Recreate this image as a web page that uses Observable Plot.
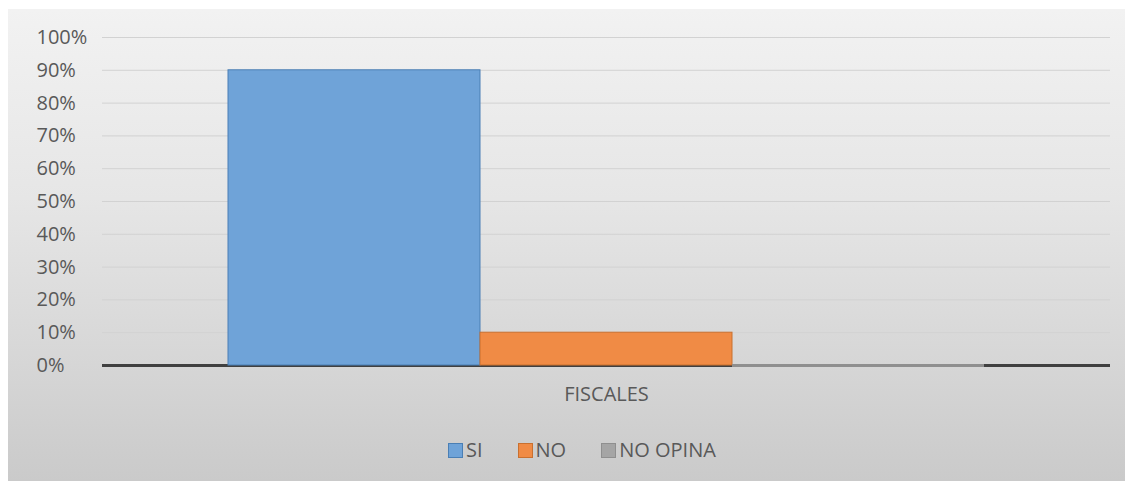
<!DOCTYPE html>
<html>
<head>
<meta charset="utf-8">
<script src="https://cdn.jsdelivr.net/npm/d3@7"></script>
<script src="https://cdn.jsdelivr.net/npm/@observablehq/plot@0.6"></script>
<style>
html, body { margin: 0; padding: 0; background: #ffffff; }
#frame {
  position: absolute; left: 8px; top: 9px; width: 1117px; height: 472px;
  background: linear-gradient(to bottom, #f2f2f2 0%, #e6e6e6 40%, #d6d6d6 75%, #cacaca 100%);
  font-family: "Open Sans", sans-serif; color: #595959; overflow: hidden;
}
#legend {
  display: flex; align-items: center; padding-left: 440px; margin-top: 29px;
  font-size: 20px; line-height: 22px; color: #595959;
}
.item { display: flex; align-items: center; margin-right: 35px; }
.sw { width: 15px; height: 15px; box-sizing: border-box; border: 1px solid; margin-right: 3px; }
</style>
</head>
<body>
<div id="frame"><div id="chart"></div><div id="legend"></div></div>
<script>
const categories = ["FISCALES"];
const series = ["SI", "NO", "NO OPINA"];
const values = [0.90, 0.10, 0.00];
const fills = ["#6fa3d8", "#f08b45", "#a5a5a5"];
const strokes = ["#4a7fb5", "#c9702f", "#8f8f8f"];
const yTicks = [0, 0.1, 0.2, 0.3, 0.4, 0.5, 0.6, 0.7, 0.8, 0.9, 1.0];

const data = series.map((s, i) => ({category: categories[0], serie: s, value: values[i]}));

const barMarks = series.map((s, i) =>
  Plot.barY(data.filter(d => d.serie === s), {
    fx: "category", x: "serie", y: "value",
    fill: fills[i], stroke: strokes[i], strokeWidth: 1
  })
);
const zeroMarks = series.map((s, i) =>
  Plot.tickY(data.filter(d => d.serie === s && d.value === 0), {
    fx: "category", x: "serie", y: "value",
    stroke: strokes[i], strokeWidth: 3
  })
);

const chart = Plot.plot({
  width: 1117, height: 401,
  marginLeft: 94, marginRight: 15, marginTop: 28, marginBottom: 45,
  style: {background: "transparent", fontFamily: "Open Sans, sans-serif", fontSize: "20px", color: "#595959"},
  fx: {domain: categories, padding: 0, label: null, axis: null},
  x: {domain: series, paddingInner: 0, paddingOuter: 0.5, axis: null},
  y: {domain: [0, 1], axis: null},
  marks: [
    Plot.gridY(yTicks, {stroke: "#d2d2d2", strokeOpacity: 1}),
    Plot.axisY(yTicks, {
      tickFormat: d => Math.round(d * 100) + "%",
      tickSize: 0, tickPadding: 0, textAnchor: "start", dx: -66,
      fill: "#595959", fontSize: 20, label: null
    }),
    Plot.axisFx({anchor: "bottom", tickSize: 0, tickPadding: 21, label: null, fill: "#595959", fontSize: 20}),
    Plot.ruleY([0], {stroke: "#404040", strokeWidth: 3}),
    ...barMarks,
    ...zeroMarks
  ]
});
document.getElementById("chart").appendChild(chart);

const legend = document.getElementById("legend");
series.forEach((s, i) => {
  const it = document.createElement("div");
  it.className = "item";
  const sw = document.createElement("div");
  sw.className = "sw";
  sw.style.background = fills[i];
  sw.style.borderColor = strokes[i];
  const t = document.createElement("span");
  t.textContent = s;
  it.appendChild(sw); it.appendChild(t);
  legend.appendChild(it);
});
</script>
</body>
</html>
